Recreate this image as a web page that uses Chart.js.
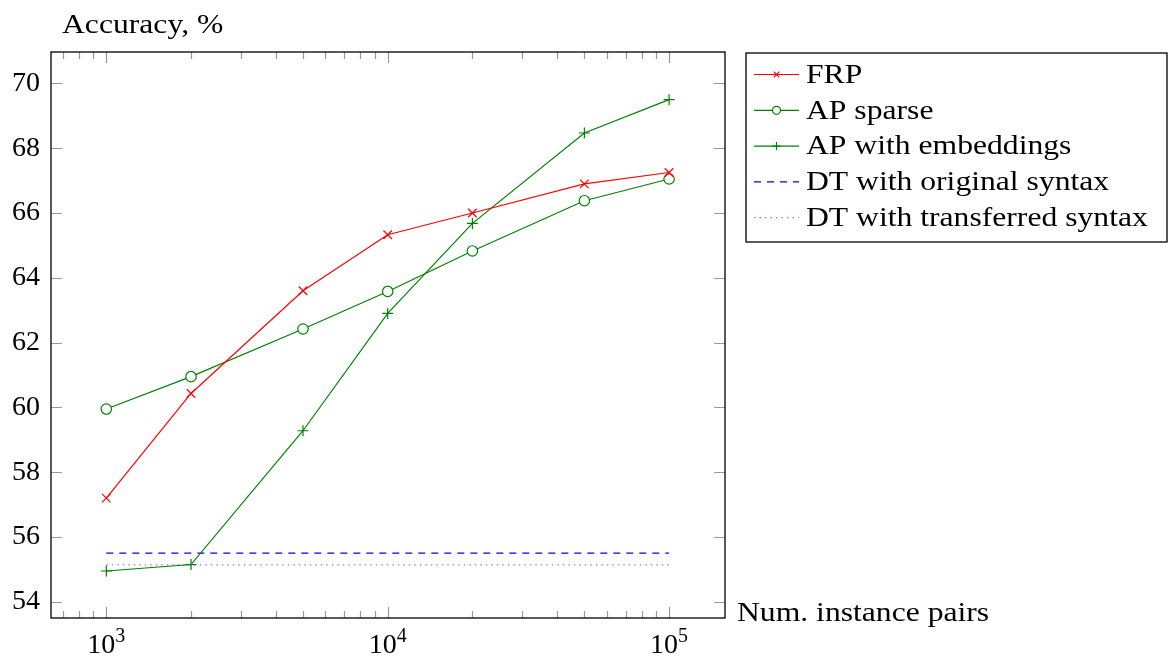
<!DOCTYPE html>
<html>
<head>
<meta charset="utf-8">
<script src="https://cdn.jsdelivr.net/npm/chart.js@4/dist/chart.umd.min.js"></script>
<style>
  html, body { margin: 0; padding: 0; background: #fff; }
  canvas { display: block; }
</style>
</head>
<body>
<canvas id="chart" width="1169" height="658"></canvas>
<script>
// data
const sizes = [1000, 2000, 5000, 10000, 20000, 50000, 100000];
const frp = [57.2, 60.43, 63.6, 65.33, 66.0, 66.9, 67.25];
const apSparse = [59.95, 60.95, 62.42, 63.58, 64.83, 66.38, 67.05];
const apEmb = [54.95, 55.15, 59.28, 62.9, 65.68, 68.47, 69.5];
const dtRange = [1000, 100000];
const dtOriginal = 55.5;
const dtTransferred = 55.14;
const yTicks = [54, 56, 58, 60, 62, 64, 66, 68, 70];
const xPowers = [3, 4, 5];

const FONT = "'Liberation Serif', 'DejaVu Serif', serif";
const GREEN = "#008000";
const STRETCH = 1.13; // widen Times a bit to look like the Palatino original

function pts(xs, ys) {
  return xs.map((x, i) => ({ x: x, y: ys[i] }));
}

const datasets = [
  { label: "FRP", data: pts(sizes, frp), borderColor: "#ff0000", backgroundColor: "#ff0000",
    pointStyle: "crossRot", pointRadius: 6, borderWidth: 1.2, pointBorderWidth: 1.2 },
  { label: "AP sparse", data: pts(sizes, apSparse), borderColor: GREEN, backgroundColor: "#fff",
    pointStyle: "circle", pointRadius: 5.2, borderWidth: 1.2, pointBorderWidth: 1.2 },
  { label: "AP with embeddings", data: pts(sizes, apEmb), borderColor: GREEN, backgroundColor: GREEN,
    pointStyle: "cross", pointRadius: 5.5, borderWidth: 1.2, pointBorderWidth: 1.2 },
  { label: "DT with original syntax", data: pts(dtRange, [dtOriginal, dtOriginal]), borderColor: "#0000ff",
    borderDash: [7, 6], pointRadius: 0, borderWidth: 1.2 },
  { label: "DT with transferred syntax", data: pts(dtRange, [dtTransferred, dtTransferred]), borderColor: "#8080ff",
    borderDash: [1.5, 4], pointRadius: 0, borderWidth: 1.2 }
];

function wideText(ctx, txt, x, y) {
  ctx.save();
  ctx.translate(x, y);
  ctx.scale(STRETCH, 1);
  ctx.fillText(txt, 0, 0);
  ctx.restore();
}

// frame, inward ticks, x labels, axis titles, legend
const decor = {
  id: "decor",
  afterDraw(chart) {
    const ctx = chart.ctx;
    const a = chart.chartArea;
    const xs = chart.scales.x, ys = chart.scales.y;
    ctx.save();

    // ticks
    ctx.strokeStyle = "#999";
    ctx.lineWidth = 1.2;
    ctx.beginPath();
    yTicks.forEach(v => {
      const y = Math.round(ys.getPixelForValue(v)) + 0.5;
      ctx.moveTo(a.left, y); ctx.lineTo(a.left + 11, y);
      ctx.moveTo(a.right, y); ctx.lineTo(a.right - 11, y);
    });
    for (let p = 2; p <= 5; p++) {
      for (let m = 1; m <= 9; m++) {
        const v = m * Math.pow(10, p);
        if (v < xs.min || v > xs.max) continue;
        const x = Math.round(xs.getPixelForValue(v)) + 0.5;
        const len = m === 1 ? 11 : 7;
        ctx.moveTo(x, a.bottom); ctx.lineTo(x, a.bottom - len);
        ctx.moveTo(x, a.top); ctx.lineTo(x, a.top + len);
      }
    }
    ctx.stroke();

    // frame
    ctx.strokeStyle = "#000";
    ctx.lineWidth = 1.3;
    ctx.strokeRect(a.left, a.top, a.right - a.left, a.bottom - a.top);

    // x tick labels 10^n
    ctx.fillStyle = "#000";
    ctx.textBaseline = "alphabetic";
    ctx.textAlign = "left";
    xPowers.forEach(p => {
      const x = xs.getPixelForValue(Math.pow(10, p));
      ctx.font = "28px " + FONT;
      const w1 = ctx.measureText("10").width;
      ctx.font = "20px " + FONT;
      const w2 = ctx.measureText(String(p)).width;
      const x0 = x - (w1 + w2) / 2;
      ctx.font = "28px " + FONT;
      ctx.fillText("10", x0, 653);
      ctx.font = "20px " + FONT;
      ctx.fillText(String(p), x0 + w1, 642);
    });

    // axis titles
    ctx.font = "28px " + FONT;
    wideText(ctx, "Accuracy, %", 62, 33);
    ctx.textBaseline = "middle";
    wideText(ctx, "Num. instance pairs", 737, 614);

    // legend
    const lx = 746, ly = 53, lw = 421, lh = 189;
    ctx.lineWidth = 1.3;
    ctx.strokeStyle = "#000";
    ctx.strokeRect(lx, ly, lw, lh);
    chart.data.datasets.forEach((ds, i) => {
      const y = 74.5 + i * 35.8;
      ctx.save();
      ctx.strokeStyle = ds.borderColor;
      ctx.lineWidth = 1.2;
      ctx.setLineDash(ds.borderDash || []);
      ctx.beginPath();
      ctx.moveTo(754, y); ctx.lineTo(799, y);
      ctx.stroke();
      ctx.setLineDash([]);
      if (ds.pointRadius > 0) {
        ctx.fillStyle = ds.backgroundColor;
        Chart.helpers.drawPoint(ctx, { pointStyle: ds.pointStyle, radius: 4, rotation: 0, borderWidth: 1.2 }, 776.5, y);
      }
      ctx.restore();
      ctx.fillStyle = "#000";
      ctx.font = "28px " + FONT;
      ctx.textBaseline = "middle";
      wideText(ctx, ds.label, 806, y + 1);
    });

    ctx.restore();
  }
};

new Chart(document.getElementById("chart"), {
  type: "line",
  data: { datasets: datasets },
  plugins: [decor],
  options: {
    responsive: false,
    animation: false,
    layout: { padding: { left: 0, top: 52, right: 444, bottom: 40 } },
    plugins: { legend: { display: false }, tooltip: { enabled: false } },
    scales: {
      x: {
        type: "logarithmic",
        min: 636,
        max: 158000,
        display: false
      },
      y: {
        type: "linear",
        min: 53.5,
        max: 70.97,
        afterFit: (scale) => { scale.width = 51; },
        afterBuildTicks: (scale) => { scale.ticks = yTicks.map(v => ({ value: v })); },
        grid: { display: false, drawTicks: false },
        border: { display: false },
        ticks: {
          padding: 11,
          color: "#000",
          font: { family: FONT, size: 28 }
        }
      }
    }
  }
});
</script>
</body>
</html>
